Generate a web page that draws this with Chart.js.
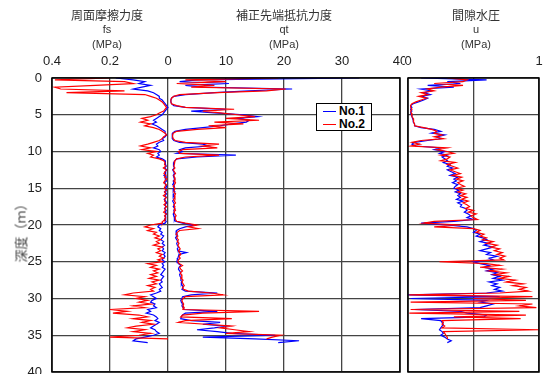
<!DOCTYPE html>
<html>
<head>
<meta charset="utf-8">
<script src="https://cdn.jsdelivr.net/npm/chart.js@4"></script>
<style>
  body { margin: 0; background: #fff; }
  #wrap { position: relative; width: 545px; height: 374px; overflow: hidden; background: #fff; font-family: "Noto Sans CJK JP", sans-serif; color: #333; }
  canvas { position: absolute; top: 0; }
  .ttl { position: absolute; text-align: center; font-size: 12px; line-height: 13px; white-space: nowrap; }
  .sub { font-family: "Liberation Sans", sans-serif; font-size: 11px; }
  #ylab { position: absolute; left: 20px; top: 230px; transform: translate(-50%, -50%) rotate(-90deg); font-size: 13px; white-space: nowrap; color: #444; }
  #legend { position: absolute; left: 316px; top: 103px; width: 54px; height: 26px; border: 1px solid #000; background: #fff; font: bold 12px "Liberation Sans", sans-serif; color: #000; }
  #legend div { position: relative; height: 12px; line-height: 12px; padding-left: 22px; margin-top: 1px; }
  #legend span { position: absolute; left: 6px; top: 6px; width: 13px; height: 1px; }
</style>
</head>
<body>
<div id="wrap">
  <canvas id="left" width="405" height="374" style="left:0"></canvas>
  <canvas id="right" width="145" height="374" style="left:400px"></canvas>
  <div class="ttl" style="left:107px;top:8px;transform:translateX(-50%)">周面摩擦力度<br><span class="sub">fs</span><br><span class="sub">(MPa)</span></div>
  <div class="ttl" style="left:284px;top:8px;transform:translateX(-50%)">補正先端抵抗力度<br><span class="sub">qt</span><br><span class="sub">(MPa)</span></div>
  <div class="ttl" style="left:476px;top:8px;transform:translateX(-50%)">間隙水圧<br><span class="sub">u</span><br><span class="sub">(MPa)</span></div>
  <div id="ylab">深度（ｍ）</div>
  <div id="legend">
    <div><span style="background:#0000ff"></span>No.1</div>
    <div><span style="background:#ff0000"></span>No.2</div>
  </div>
</div>
<script>
// depth (m), every 0.25 m, one row per metre
const depth = [
  0,0.25,0.5,0.75, 1,1.25,1.5,1.75, 2,2.25,2.5,2.75, 3,3.25,3.5,3.75, 4,4.25,4.5,4.75,
  5,5.25,5.5,5.75, 6,6.25,6.5,6.75, 7,7.25,7.5,7.75, 8,8.25,8.5,8.75, 9,9.25,9.5,9.75,
  10,10.25,10.5,10.75, 11,11.25,11.5,11.75, 12,12.25,12.5,12.75, 13,13.25,13.5,13.75, 14,14.25,14.5,14.75,
  15,15.25,15.5,15.75, 16,16.25,16.5,16.75, 17,17.25,17.5,17.75, 18,18.25,18.5,18.75, 19,19.25,19.5,19.75,
  20,20.25,20.5,20.75, 21,21.25,21.5,21.75, 22,22.25,22.5,22.75, 23,23.25,23.5,23.75, 24,24.25,24.5,24.75,
  25,25.25,25.5,25.75, 26,26.25,26.5,26.75, 27,27.25,27.5,27.75, 28,28.25,28.5,28.75, 29,29.25,29.5,29.75,
  30,30.25,30.5,30.75, 31,31.25,31.5,31.75, 32,32.25,32.5,32.75, 33,33.25,33.5,33.75, 34,34.25,34.5,34.75,
  35,35.25,35.5,35.75, 36
];

// 周面摩擦力度 fs (MPa)
const fsNo1 = [
  0.18,0.12,0.08,0.10, 0.06,0.09,0.12,0.07, 0.05,0.04,0.03,0.03, 0.02,0.015,0.01,0.005, 0.0,0.005,0.01,0.015,
  0.02,0.03,0.04,0.05, 0.04,0.055,0.04,0.03, 0.02,0.01,0.01,0.005, 0.01,0.02,0.015,0.03, 0.04,0.035,0.05,0.03,
  0.025,0.035,0.03,0.04, 0.02,0.01,0.008,0.01, 0.006,0.012,0.004,0.01, 0.008,0.014,0.006,0.01, 0.005,0.012,0.008,0.004,
  0.01,0.007,0.012,0.005, 0.01,0.006,0.013,0.008, 0.004,0.011,0.007,0.012, 0.006,0.009,0.005,0.01, 0.008,0.012,0.006,0.01,
  0.03,0.035,0.025,0.03, 0.02,0.025,0.015,0.02, 0.025,0.015,0.02,0.012, 0.02,0.015,0.02,0.01, 0.015,0.01,0.015,0.02,
  0.01,0.02,0.015,0.02, 0.01,0.015,0.02,0.025, 0.015,0.02,0.025,0.02, 0.03,0.025,0.02,0.03, 0.025,0.04,0.06,0.05,
  0.04,0.055,0.06,0.045, 0.05,0.04,0.07,0.06, 0.075,0.05,0.04,0.035, 0.045,0.03,0.04,0.05, 0.06,0.045,0.04,0.03,
  0.05,0.08,0.11,0.12, 0.07
];
const fsNo2 = [
  0.2,0.39,0.15,0.12, 0.25,0.39,0.37,0.15, 0.35,0.08,0.06,0.04, 0.03,0.02,0.015,0.01, 0.005,0.01,0.015,0.03,
  0.04,0.06,0.09,0.07, 0.095,0.06,0.08,0.05, 0.03,0.02,0.01,0.005, 0.015,0.02,0.03,0.05, 0.07,0.095,0.06,0.09,
  0.04,0.07,0.05,0.06, 0.03,0.015,0.01,0.012, 0.008,0.016,0.005,0.01, 0.014,0.007,0.012,0.004, 0.011,0.015,0.006,0.01,
  0.013,0.005,0.012,0.008, 0.016,0.006,0.01,0.012, 0.007,0.014,0.005,0.011, 0.009,0.015,0.006,0.012, 0.008,0.01,0.018,0.02,
  0.06,0.08,0.05,0.07, 0.04,0.05,0.03,0.045, 0.025,0.04,0.03,0.05, 0.02,0.035,0.025,0.04, 0.02,0.03,0.015,0.035,
  0.02,0.07,0.04,0.06, 0.03,0.05,0.035,0.06, 0.04,0.065,0.03,0.055, 0.04,0.07,0.045,0.06, 0.05,0.12,0.15,0.08,
  0.11,0.07,0.1,0.06, 0.12,0.08,0.2,0.14, 0.19,0.1,0.07,0.12, 0.06,0.09,0.05,0.11, 0.14,0.08,0.12,0.06,
  0.1,0.2,0,null, null
];

// 補正先端抵抗力度 qt (MPa)
const qtNo1 = [
  33,5,2,10.5, 3,6,21.4,14, 8,3,1,0.6, 0.5,0.5,0.6,1, 3,10,4,8,
  13,15.5,12,14, 13.5,11,9,6, 3,1.2,0.8,0.7, 0.7,0.8,1,2, 6,7,3,2,
  2.5,1.5,11.7,5, 1.5,1.2,1.0,1.0, 0.9,1.1,0.8,1.0, 1.1,0.9,1.0,1.2, 0.9,1.0,0.8,1.1,
  1.0,0.9,1.2,1.0, 0.9,1.1,1.0,0.8, 1.0,1.1,0.9,1.2, 1.0,1.1,0.9,1.0, 1.2,1.1,1.3,2.5,
  4.5,3,2,1.5, 1.4,1.6,1.5,1.3, 1.5,1.7,1.5,1.6, 1.8,1.6,1.7,3.2, 1.9,1.8,1.7,1.6,
  1.5,1.8,2.2,1.9, 1.8,2.0,2.2,2.0, 2.1,2.3,2.2,2.4, 2.3,2.5,2.6,2.4, 3,8.5,4,2.5,
  2.4,2.2,2.3,2.5, 2.4,2.6,2.8,8.5, 3,2.5,2.3,2.2, 4,9,6,10, 8,5,8.5,11,
  18.5,6,15,22.6, 19
];
const qtNo2 = [
  19,3,10,1.5, 8,4,20.3,17, 8.5,2,1,0.6, 0.5,0.5,0.6,1.5, 3,11.4,6,9,
  12,15,10,15.7, 8,13,7,10, 5,1.5,0.9,0.8, 0.8,0.9,1.2,3, 8.8,6,8.5,2.5,
  1.8,2,8.8,3, 1.5,1.2,1.1,1.1, 1.0,1.2,0.9,1.1, 1.3,1.0,1.1,1.2, 1.0,1.3,1.1,0.9,
  1.2,1.1,1.0,1.3, 1.1,1.2,1.0,1.1, 1.3,1.0,1.2,1.1, 1.3,1.0,1.2,1.4, 1.2,1.3,1.5,3,
  5,3.5,5.2,2, 1.6,1.4,1.7,1.5, 1.8,1.6,1.9,1.7, 1.9,2.1,1.8,2, 2.2,1.9,2.1,1.8,
  1.7,1.9,2.5,2.0, 2.2,2.5,2.1,2.3, 2.4,2.2,2.6,2.4, 2.6,2.8,2.5,2.7, 3.5,7.5,9.5,3,
  2.6,2.4,2.5,2.7, 2.6,2.8,2.6,15.7, 6,2.5,2.2,11, 3,1.8,6.5,11, 9,11.5,14,10,
  19.4,18,17,null, null
];

// 間隙水圧 u (MPa)
const uNo1 = [
  0.1,0.6,0.3,0.4, 0.15,0.35,0.1,0.18, 0.12,0.17,0.1,0.15, 0.12,0.08,0.04,0.02, 0.03,0.02,0.03,0.02,
  0.025,0.03,0.035,0.04, 0.04,0.05,0.05,0.1, 0.2,0.25,0.18,0.28, 0.22,0.25,0.15,0.05, 0.03,0.06,0.25,0.2,
  0.28,0.24,0.3,0.26, 0.28,0.3,0.27,0.32, 0.3,0.34,0.3,0.33, 0.36,0.32,0.38,0.35, 0.37,0.34,0.38,0.36,
  0.35,0.39,0.36,0.4, 0.38,0.4,0.37,0.42, 0.38,0.41,0.4,0.44, 0.45,0.43,0.46,0.48, 0.45,0.5,0.35,0.1,
  0.3,0.45,0.5,0.52, 0.5,0.55,0.52,0.57, 0.6,0.55,0.62,0.58, 0.65,0.6,0.55,0.63, 0.6,0.68,0.62,0.65,
  0.5,0.55,0.62,0.58, 0.65,0.6,0.68,0.64, 0.7,0.65,0.72,0.62, 0.68,0.64,0.7,0.66, 0.72,0.6,0.0,0.7,
  0.02,0.6,0.55,0.65, 0.6,0.55,0.05,0.4, 0.45,0.6,0.58,0.1, 0.25,0.26,0.27,0.26, 0.25,0.24,0.26,0.27,
  0.25,0.28,0.3,0.33, 0.3
];
const uNo2 = [
  0.3,0.45,0.42,0.2, 0.42,0.25,0.15,0.2, 0.1,0.15,0.08,0.14, 0.1,0.06,0.03,0.02, 0.02,0.03,0.02,0.025,
  0.03,0.03,0.04,0.04, 0.045,0.05,0.05,0.12, 0.18,0.22,0.2,0.26, 0.2,0.27,0.1,0.03, 0.09,0.02,0.3,0.22,
  0.3,0.35,0.25,0.32, 0.3,0.25,0.36,0.3, 0.34,0.38,0.32,0.36, 0.4,0.34,0.41,0.37, 0.42,0.38,0.4,0.43,
  0.37,0.42,0.38,0.44, 0.4,0.45,0.41,0.46, 0.42,0.45,0.47,0.44, 0.5,0.46,0.52,0.48, 0.5,0.53,0.2,0.12,
  0.4,0.2,0.5,0.55, 0.52,0.58,0.55,0.6, 0.57,0.65,0.6,0.68, 0.63,0.7,0.66,0.72, 0.68,0.74,0.7,0.73,
  0.24,0.6,0.7,0.55, 0.72,0.62,0.75,0.66, 0.77,0.7,0.82,0.75, 0.88,0.8,0.9,0.85, 0.92,0.7,0.01,0.95,
  0.5,0.9,0.02,0.95, 0.85,0.98,0.02,0.85, 0.01,0.9,0.35,0.86, 0.26,0.27,0.26,0.28, 0.26,1.0,0.27,0.28,
  0.29,0.3,0.3,null, null
];

const topTicks = ['0.4', '0.2', '0', '10', '20', '30', '40'];
const uTicks = ['0', '', '1'];

const BLUE = '#0000ff', RED = '#ff0000', GRID = '#444';
const tickFont = { family: 'Liberation Sans', size: 13 };

function pts(vals) {
  const out = [];
  vals.forEach((v, i) => { if (v !== null) out.push({ x: v, y: depth[i] }); });
  return out;
}
function line(vals, color, axis) {
  return { data: pts(vals), xAxisID: axis, borderColor: color, borderWidth: 1.2, showLine: true, pointRadius: 0, tension: 0, fill: false };
}

const frame = {
  id: 'frame',
  afterDraw(c) {
    const a = c.chartArea, ctx = c.ctx;
    ctx.save();
    ctx.strokeStyle = '#000';
    ctx.lineWidth = 1.5;
    ctx.strokeRect(a.left, a.top, a.right - a.left, a.bottom - a.top);
    ctx.restore();
  }
};

// stop tick labels from pushing the plot area in
function noOverhang(s) {
  s.paddingLeft = 0; s.paddingRight = 0; s.paddingTop = 0; s.paddingBottom = 0;
}

const depthScale = (showTicks, width) => ({
  type: 'linear', reverse: true, min: 0, max: 40,
  ticks: { display: showTicks, stepSize: 5, font: tickFont, color: '#222', padding: 10 },
  grid: { color: GRID, lineWidth: 1.3, drawTicks: false },
  border: { display: false },
  afterFit(s) { s.width = width; noOverhang(s); }
});

// fs + qt panel (red drawn on top)
new Chart(document.getElementById('left'), {
  type: 'scatter',
  data: { datasets: [
    line(fsNo2, RED, 'xf'), line(qtNo2, RED, 'x'),
    line(fsNo1, BLUE, 'xf'), line(qtNo1, BLUE, 'x')
  ] },
  options: {
    responsive: false, animation: false,
    layout: { autoPadding: false, padding: { top: 0, right: 5, bottom: 2, left: 0 } },
    plugins: { legend: { display: false }, tooltip: { enabled: false } },
    scales: {
      x: {
        type: 'linear', position: 'top', min: -20, max: 40,
        ticks: { stepSize: 10, font: tickFont, color: '#222', padding: 9, callback: (v, i) => topTicks[i] },
        grid: { color: GRID, lineWidth: 1.3, drawTicks: false },
        border: { display: false },
        afterFit(s) { s.height = 78; noOverhang(s); }
      },
      xf: { type: 'linear', display: false, reverse: true, min: -0.8, max: 0.4 },
      y: depthScale(true, 52)
    }
  },
  plugins: [frame]
});

// u panel
new Chart(document.getElementById('right'), {
  type: 'scatter',
  data: { datasets: [ line(uNo2, RED, 'x'), line(uNo1, BLUE, 'x') ] },
  options: {
    responsive: false, animation: false,
    layout: { autoPadding: false, padding: { top: 0, right: 6, bottom: 2, left: 8 } },
    plugins: { legend: { display: false }, tooltip: { enabled: false } },
    scales: {
      x: {
        type: 'linear', position: 'top', min: 0, max: 1,
        ticks: { stepSize: 0.5, font: tickFont, color: '#222', padding: 9, callback: (v, i) => uTicks[i] },
        grid: { color: GRID, lineWidth: 1.3, drawTicks: false },
        border: { display: false },
        afterFit(s) { s.height = 78; noOverhang(s); }
      },
      y: depthScale(false, 0)
    }
  },
  plugins: [frame]
});
</script>
</body>
</html>
